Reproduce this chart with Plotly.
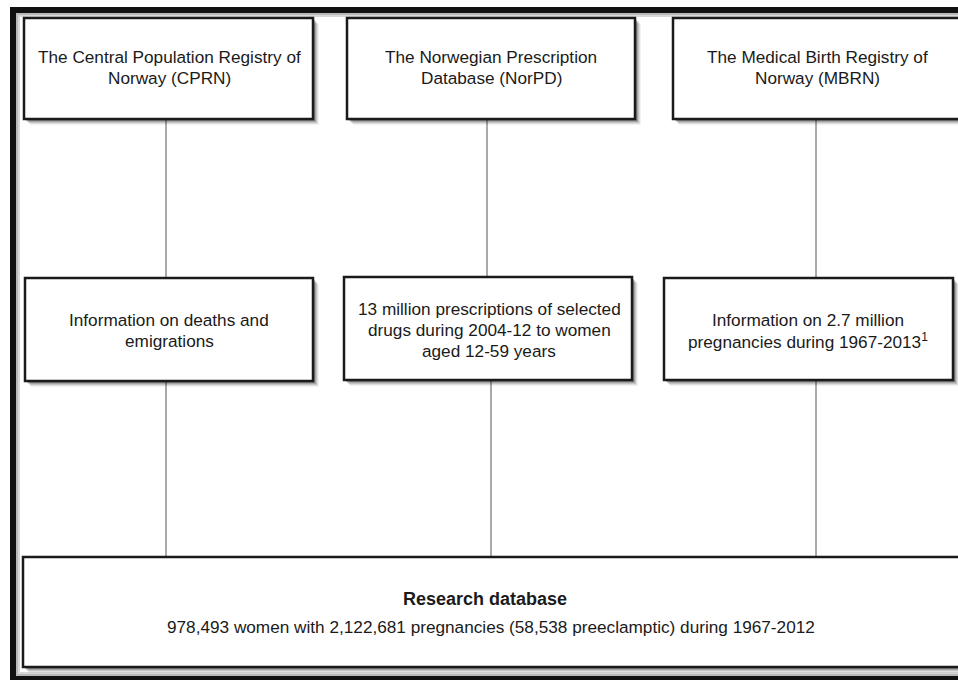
import plotly.graph_objects as go

# ---- data ----
top_labels = [
    "The Central Population Registry of<br>Norway (CPRN)",
    "The Norwegian Prescription<br>Database (NorPD)",
    "The Medical Birth Registry of<br>Norway (MBRN)",
]
mid_labels = [
    "Information on deaths and<br>emigrations",
    "13 million prescriptions of selected<br>drugs during 2004-12 to women<br>aged 12-59 years",
    "Information on 2.7 million<br>pregnancies during 1967-2013<sup>1</sup>",
]
bottom_title = "<b>Research database</b>"
bottom_text = "978,493 women with 2,122,681 pregnancies (58,538 preeclamptic) during 1967-2012"

# ---- layout geometry (pixels, y downwards) ----
W, H = 958, 680
top_boxes = [(24, 18, 313, 119), (347, 18, 635, 119), (673, 18, 990, 119)]
top_text_x = [169, 491, 817]
mid_boxes = [(25, 278, 313, 381), (344, 277, 632, 380), (664, 278, 953, 380)]
mid_text_x = [169, 489, 808]
bottom_box = (23, 557, 990, 667)
upper_line_x = [166, 487, 816]
lower_line_x = [166, 491, 816]
LINE_PITCH = 21

FONT = "Liberation Sans, Arial, sans-serif"
TXT = "#1a1a1a"
fig = go.Figure()
shapes = []
annotations = []

# outer frame: thick black with inner grey shading
shapes.append(dict(type="rect", xref="x", yref="y", x0=16, y0=13, x1=1000, y1=676,
                   line=dict(width=0), fillcolor="#b8b8b8", layer="below"))
shapes.append(dict(type="rect", xref="x", yref="y", x0=18, y0=15, x1=1000, y1=674,
                   line=dict(width=0), fillcolor="#d8d8d8", layer="below"))
shapes.append(dict(type="rect", xref="x", yref="y", x0=20, y0=17, x1=1000, y1=672,
                   line=dict(width=0), fillcolor="white", layer="below"))
shapes.append(dict(type="rect", xref="x", yref="y", x0=13, y0=10, x1=1000, y1=679,
                   line=dict(color="#111111", width=6), fillcolor="rgba(0,0,0,0)"))

# connector lines
for x in upper_line_x:
    shapes.append(dict(type="line", xref="x", yref="y", x0=x, x1=x, y0=119, y1=278,
                       line=dict(color="#555555", width=1)))
for x in lower_line_x:
    shapes.append(dict(type="line", xref="x", yref="y", x0=x, x1=x, y0=381, y1=557,
                       line=dict(color="#555555", width=1)))


def add_box(b):
    x0, y0, x1, y1 = b
    for k, op in [(6, 0.05), (5, 0.08), (4, 0.12), (3, 0.16), (2, 0.2)]:
        shapes.append(dict(type="rect", xref="x", yref="y",
                           x0=x0 + k, y0=y0 + k, x1=x1 + k, y1=y1 + k,
                           line=dict(width=0), fillcolor=f"rgba(0,0,0,{op})"))
    shapes.append(dict(type="rect", xref="x", yref="y", x0=x0, y0=y0, x1=x1, y1=y1,
                       line=dict(color="#1a1a1a", width=2.5), fillcolor="white"))


def add_text(label, cx, cy, size=17.2):
    lines = label.split("<br>")
    n = len(lines)
    for i, ln in enumerate(lines):
        y = cy + (i - (n - 1) / 2) * LINE_PITCH
        annotations.append(dict(x=cx, y=y, xref="x", yref="y", text=ln, showarrow=False,
                                font=dict(family=FONT, size=size, color=TXT)))


for b, lab, tx in zip(top_boxes, top_labels, top_text_x):
    add_box(b)
    add_text(lab, tx, (b[1] + b[3]) / 2 - 1)
for b, lab, tx in zip(mid_boxes, mid_labels, mid_text_x):
    add_box(b)
    add_text(lab, tx, (b[1] + b[3]) / 2 + 1)
add_box(bottom_box)
annotations.append(dict(x=485, y=599, xref="x", yref="y", text=bottom_title, showarrow=False,
                        font=dict(family=FONT, size=18, color=TXT)))
annotations.append(dict(x=491, y=627, xref="x", yref="y", text=bottom_text, showarrow=False,
                        font=dict(family=FONT, size=17.2, color=TXT)))

fig.update_layout(
    width=W, height=H, margin=dict(l=0, r=0, t=0, b=0),
    paper_bgcolor="white", plot_bgcolor="white",
    xaxis=dict(range=[0, W], visible=False, fixedrange=True),
    yaxis=dict(range=[H, 0], visible=False, fixedrange=True),
    shapes=shapes, annotations=annotations, showlegend=False,
)
fig.write_html("out.html", config={"displayModeBar": False},
               post_script="document.body.style.margin='0';document.body.style.overflow='hidden';")
